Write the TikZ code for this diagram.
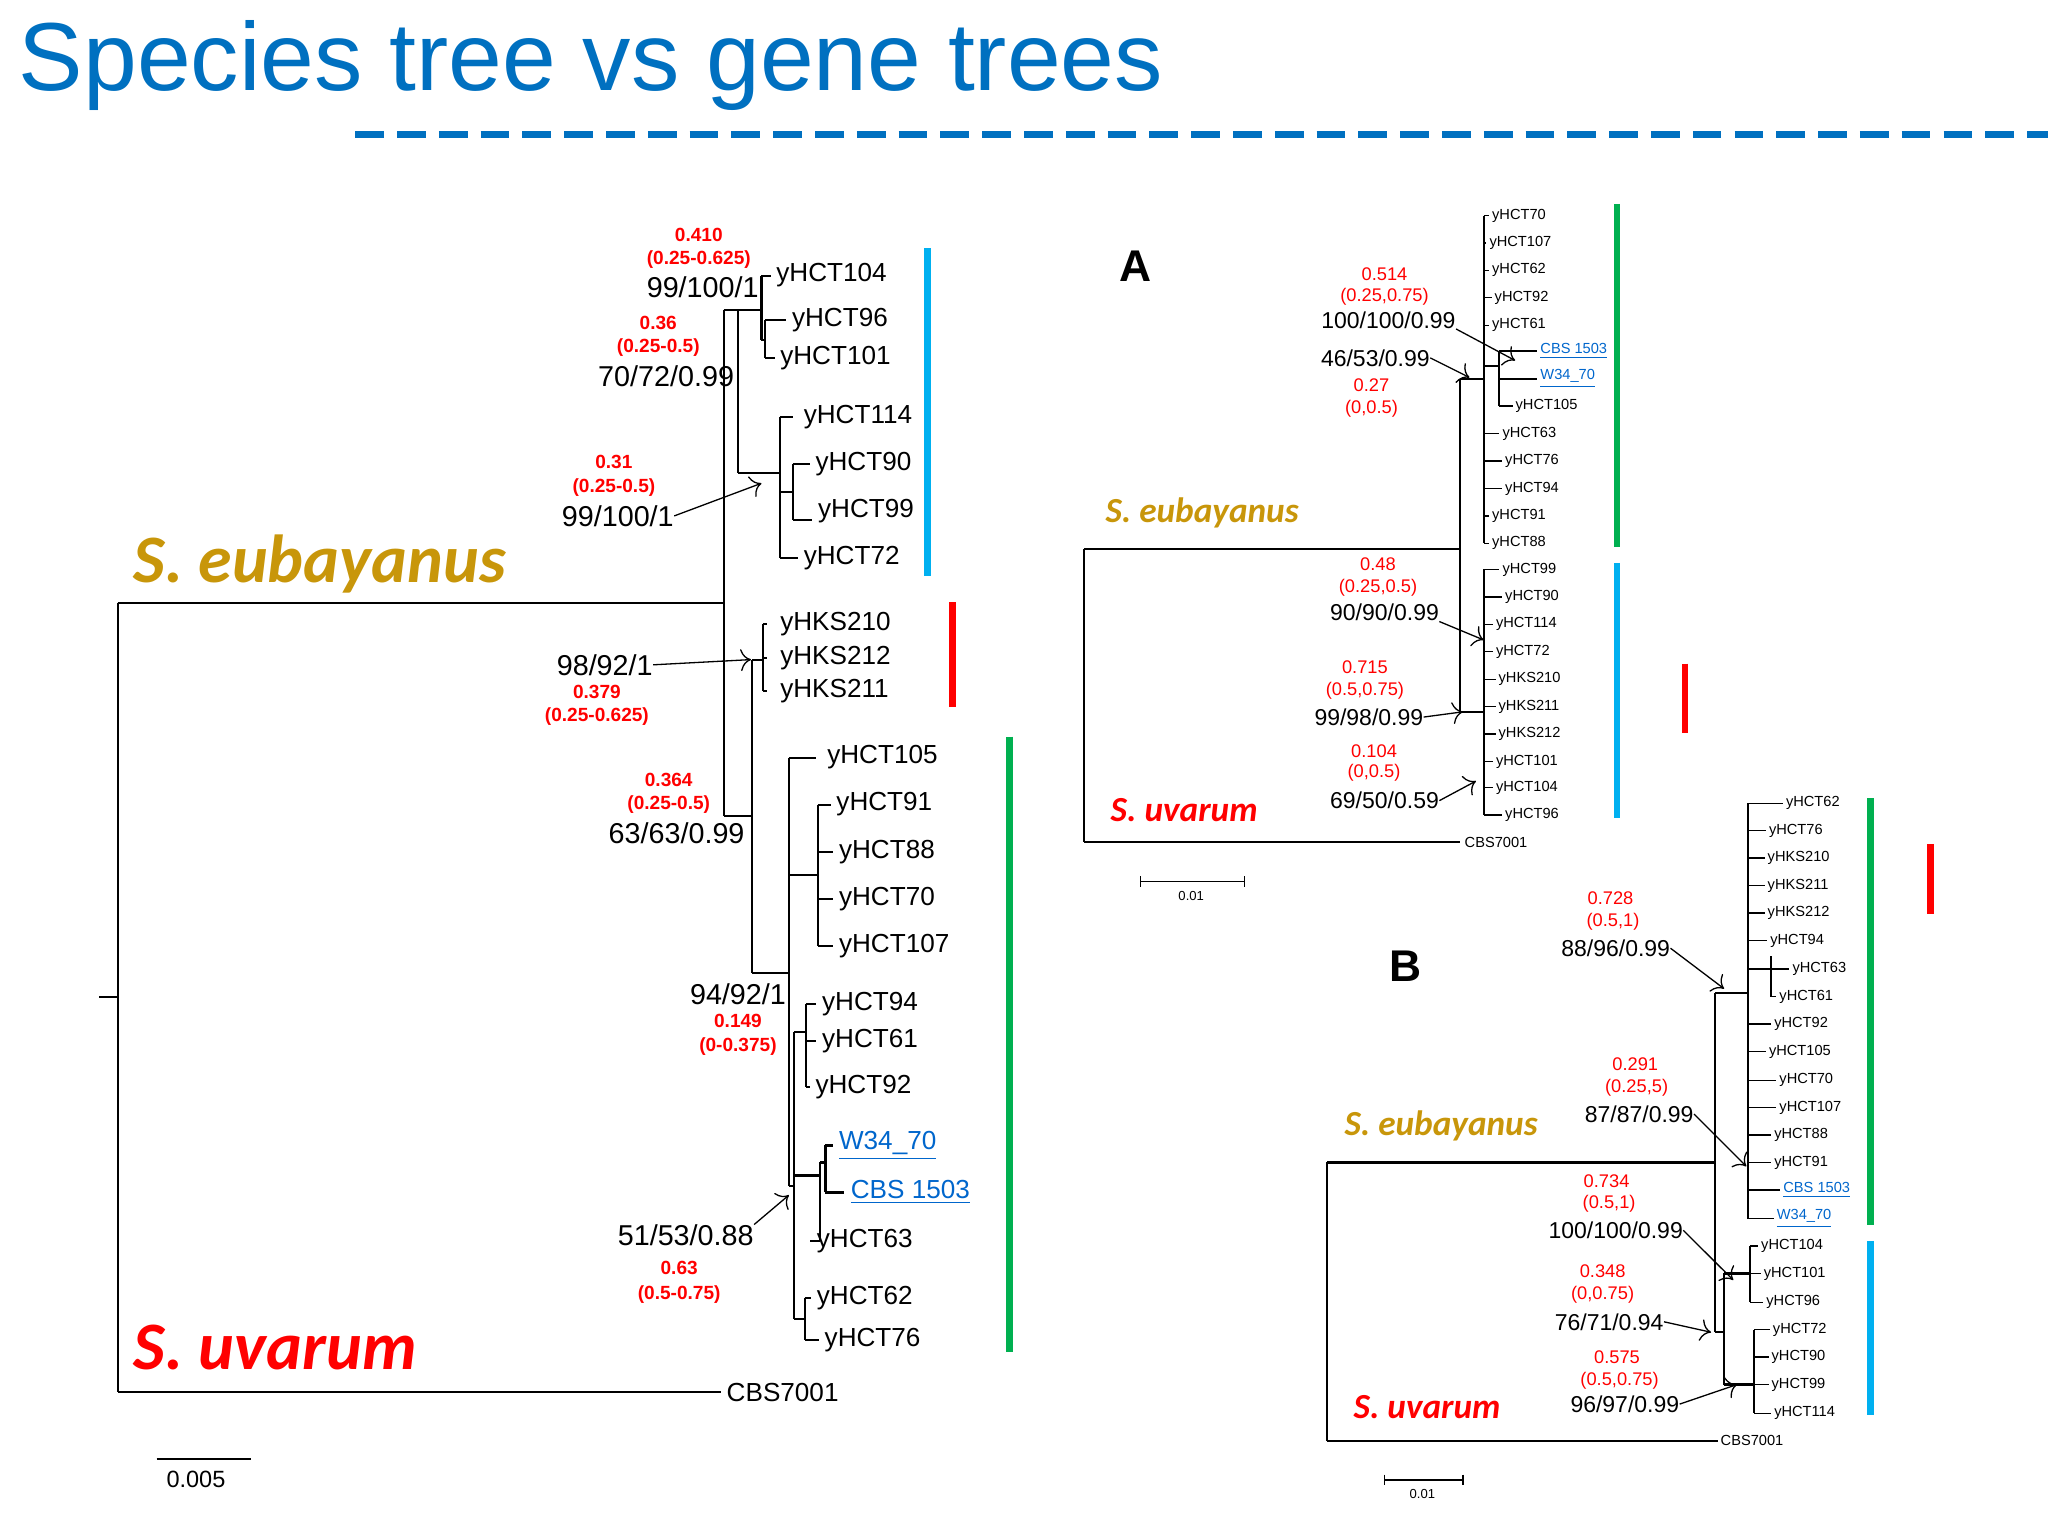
\documentclass[tikz,border=0pt]{standalone}
\usepackage{fontspec}
\setmainfont{Liberation Sans}
\newfontfamily\carlitofont{Carlito}
\usetikzlibrary{arrows.meta}
\definecolor{tblue}{RGB}{0,112,192}
\definecolor{gold}{RGB}{200,150,10}
\definecolor{lnk}{RGB}{0,102,204}
\definecolor{bbar}{RGB}{0,176,240}
\definecolor{gbar}{RGB}{0,176,80}
\tikzset{
 br/.style={line width=0.8pt},
 tipL/.style={anchor=west,inner sep=0,font=\fontsize{10}{12}\selectfont},
 tipS/.style={anchor=west,inner sep=0,font=\fontsize{5.6}{7}\selectfont},
 redL/.style={text=red,inner sep=0,font=\bfseries\fontsize{7.3}{9}\selectfont},
 blkL/.style={inner sep=0,font=\fontsize{11}{13}\selectfont},
 redS/.style={text=red,inner sep=0,font=\fontsize{7}{8}\selectfont},
 blkS/.style={inner sep=0,font=\fontsize{8.8}{10}\selectfont},
 arr/.style={-{To[length=4pt]},line width=0.5pt},
 bar/.style={line width=2.6pt},
 spec/.style={inner sep=0,anchor=west,font=\carlitofont\bfseries\itshape\fontsize{26}{30}\selectfont},
 specS/.style={inner sep=0,anchor=west,font=\carlitofont\bfseries\itshape\fontsize{13.5}{16}\selectfont},
}
\newcommand\ul[1]{\underline{#1}}
\begin{document}
\begin{tikzpicture}[x=0.5pt,y=-0.5pt]
\useasboundingbox (0,0) rectangle (1568,1176);
% title
\node[anchor=west,inner sep=0,text=tblue,font=\fontsize{37}{40}\selectfont] (title) at (14,50) {Species tree vs gene trees};
\draw[tblue,line width=2.4pt,dash pattern=on 11pt off 5pt] (272,103) -- (1568,103);

%%%%% LEFT TREE
\draw[br] (76,763) -- (90,763);
\draw[br] (90,462) -- (90,1066);
\draw[br] (90,462) -- (554,462);
\draw[br] (90,1066) -- (552,1066);
\node[tipL,anchor=west] (cbsL) at (556,1066) {CBS7001};
\draw[br] (554,237) -- (554,625);
\draw[br] (554,237) -- (565,237) (565,237) -- (565,362);
\draw[br] (565,237) -- (583,237) (583,211) -- (583,260) (583,211) -- (590,211)
  (583,260) -- (586,260) (586,245) -- (586,274) (586,245) -- (602,245) (586,274) -- (593,274);
\draw[br] (565,362) -- (597,362) (597,319) -- (597,427) (597,319) -- (607,319)
  (597,377) -- (607,377) (607,355) -- (607,398) (607,355) -- (620,355) (607,398) -- (622,398)
  (597,427) -- (611,427);
\draw[br] (554,625) -- (576,625) (576,505) -- (576,745) (576,505) -- (584,505)
  (584,478) -- (584,529) (584,478) -- (587,478) (584,504) -- (587,504) (584,529) -- (587,529);
\draw[br] (576,745) -- (604,745) (604,580) -- (604,908) (604,580) -- (625,580)
  (604,670) -- (626,670) (626,616) -- (626,724) (626,616) -- (636,616) (626,652) -- (638,652)
  (626,688) -- (638,688) (626,724) -- (638,724)
  (604,908) -- (608,908) (608,790) -- (608,1010)
  (608,790) -- (617,790) (617,769) -- (617,832) (617,769) -- (625,769) (617,797) -- (625,797) (617,832) -- (620,832)
  (608,900) -- (628,900) (628,890) -- (628,950) (628,890) -- (632,890) (632,877) -- (632,913)
  (632,877) -- (638,877) (632,913) -- (646,913) (628,950) -- (620,950)
  (608,1010) -- (616,1010) (616,994) -- (616,1026) (616,994) -- (621,994) (616,1026) -- (627,1026);
\foreach \n/\x/\y in {yHCT104/594/211,yHCT96/606/245,yHCT101/597/274,yHCT114/615/319,yHCT90/624/355,yHCT99/626/391,yHCT72/615/427,yHKS210/597/478,yHKS212/597/504,yHKS211/597/529,yHCT105/633/580,yHCT91/640/616,yHCT88/642/652,yHCT70/642/688,yHCT107/642/724,yHCT94/629/769,yHCT61/629/797,yHCT92/624/832,yHCT63/625/950,yHCT62/625/994,yHCT76/631/1026}
  \node[tipL] (L\n) at (\x,\y) {\n};
\node[tipL,text=lnk] (LW34) at (642,877) {\ul{W34\_70}};
\node[tipL,text=lnk] (LCBS) at (651,913) {\ul{CBS 1503}};
% annotations left
\node[redL] (a1) at (535,180) {0.410}; \node[redL] (a2) at (535,199) {(0.25-0.625)}; \node[blkL] (a3) at (538,220) {99/100/1};
\node[redL] (b1) at (504,247) {0.36}; \node[redL] (b2) at (504,266) {(0.25-0.5)}; \node[blkL] (b3) at (510,288) {70/72/0.99};
\node[redL] (c1) at (470,354) {0.31}; \node[redL] (c2) at (470,373) {(0.25-0.5)}; \node[blkL] (c3) at (473,395) {99/100/1};
\coordinate (c4) at (583,370); \draw[arr] (c3.east) -- (c4);
\node[blkL] (d3) at (463,509) {98/92/1}; \coordinate (d4) at (575,505); \draw[arr] (d3.east) -- (d4);
\node[redL] (d1) at (457,530) {0.379}; \node[redL] (d2) at (457,549) {(0.25-0.625)};
\node[redL] (e1) at (512,597) {0.364}; \node[redL] (e2) at (512,616) {(0.25-0.5)}; \node[blkL] (e3) at (518,638) {63/63/0.99};
\node[blkL] (f3) at (565,761) {94/92/1}; \node[redL] (f1) at (565,782) {0.149}; \node[redL] (f2) at (565,801) {(0-0.375)};
\node[blkL] (g3) at (525,946) {51/53/0.88}; \coordinate (g4) at (604,915); \draw[arr] (g3.north east) -- (g4);
\node[redL] (g1) at (520,971) {0.63}; \node[redL] (g2) at (520,991) {(0.5-0.75)};
\node[spec,text=gold] (eubL) at (102,432) {S. eubayanus};
\node[spec,text=red] (uvaL) at (102,1032) {S. uvarum};
\draw[bar,bbar] (710,190) -- (710,441);
\draw[bar,red] (729,461) -- (729,541);
\draw[bar,gbar] (773,564) -- (773,1035);
\draw[br] (120,1117) -- (192,1117);
\node[inner sep=0,font=\fontsize{9}{10}\selectfont] (sbL) at (150,1133) {0.005};

%%%%% TREE A
\node[inner sep=0,font=\bfseries\fontsize{17}{20}\selectfont] (Alab) at (869,204) {A};
\draw[br] (830,420) -- (830,645) (830,420) -- (1118,420) (830,645) -- (1118,645);
\draw[br] (1118,290) -- (1118,545) (1118,290) -- (1136,290) (1136,165) -- (1136,416)
  (1136,280) -- (1148,280) (1148,269) -- (1148,311) (1148,269) -- (1177,269) (1148,290) -- (1177,290) (1148,311) -- (1158,311)
  (1118,545) -- (1136,545) (1136,436) -- (1136,624);
\foreach \n/\x/\y in {yHCT70/1142/165,yHCT107/1140/186,yHCT62/1142/207,yHCT92/1144/228,yHCT61/1142/249,yHCT63/1150/332,yHCT76/1152/353,yHCT94/1152/374,yHCT91/1142/395,yHCT88/1142/416,yHCT99/1150/436,yHCT90/1152/457,yHCT114/1145/478,yHCT72/1145/499,yHKS210/1147/520,yHKS211/1147/541,yHKS212/1147/562,yHCT101/1145/583,yHCT104/1145/603,yHCT96/1152/624}
  {\node[tipS] (A\n) at (\x,\y) {\n}; \draw[line width=0.5pt] (1136,\y) -- (\x-2,\y);}
\node[tipS] (AyHCT105) at (1160,311) {yHCT105};
\node[tipS,text=lnk] (ACBS) at (1179,269) {\ul{CBS 1503}};
\node[tipS,text=lnk] (AW34) at (1179,290) {\ul{W34\_70}};
\node[tipS] (ACBS7) at (1121,645) {CBS7001};
\node[redS] (h1) at (1060,210) {0.514}; \node[redS] (h2) at (1060,227) {(0.25,0.75)}; \node[blkS] (h3) at (1063,245) {100/100/0.99};
\coordinate (h4) at (1160,276); \draw[arr] (h3.south east) -- (h4);
\node[blkS] (i3) at (1053,274) {46/53/0.99}; \coordinate (i4) at (1125,289); \draw[arr] (i3.east) -- (i4);
\node[redS] (i1) at (1050,295) {0.27}; \node[redS] (i2) at (1050,313) {(0,0.5)};
\node[redS] (j1) at (1055,432) {0.48}; \node[redS] (j2) at (1055,450) {(0.25,0.5)}; \node[blkS] (j3) at (1060,469) {90/90/0.99};
\coordinate (j4) at (1136,490); \draw[arr] (j3.south east) -- (j4);
\node[redS] (k1) at (1045,511) {0.715}; \node[redS] (k2) at (1045,529) {(0.5,0.75)}; \node[blkS] (k3) at (1048,549) {99/98/0.99};
\coordinate (k4) at (1120,545); \draw[arr] (k3.east) -- (k4);
\node[redS] (l1) at (1052,575) {0.104}; \node[redS] (l2) at (1052,592) {(0,0.5)}; \node[blkS] (l3) at (1060,613) {69/50/0.59};
\coordinate (l4) at (1130,598); \draw[arr] (l3.east) -- (l4);
\node[specS,text=gold] (eubA) at (846,393) {S. eubayanus};
\node[specS,text=red] (uvaA) at (850,620) {S. uvarum};
\draw[bar,gbar] (1238,156) -- (1238,419);
\draw[bar,bbar] (1238,431) -- (1238,626);
\draw[bar,red] (1290,508) -- (1290,561);
\draw[line width=0.5pt] (873,675) -- (953,675) (873,671) -- (873,679) (953,671) -- (953,679);
\node[inner sep=0,font=\fontsize{5}{6}\selectfont] (sbA) at (912,686) {0.01};

%%%%% TREE B
\node[inner sep=0,font=\bfseries\fontsize{17}{20}\selectfont] (Blab) at (1076,740) {B};
\draw[br] (1016,890) -- (1016,1103) (1016,890) -- (1313,890) (1016,1103) -- (1315,1103);
\draw[br] (1313,760) -- (1313,1020) (1313,760) -- (1338,760) (1338,615) -- (1338,933)
  (1338,742) -- (1356,742) (1356,732) -- (1356,763)
  (1313,1020) -- (1320,1020) (1320,975) -- (1320,1060)
  (1320,975) -- (1340,975) (1340,954) -- (1340,997)
  (1320,1060) -- (1343,1060) (1343,1018) -- (1343,1082);
\foreach \n/\x/\y/\b in {yHCT62/1367/615/1338,yHCT76/1354/636/1338,yHKS210/1353/657/1338,yHKS211/1353/678/1338,yHKS212/1353/699/1338,yHCT94/1355/720/1338,yHCT63/1372/742/1356,yHCT61/1362/763/1356,yHCT92/1358/784/1338,yHCT105/1354/805/1338,yHCT70/1362/827/1338,yHCT107/1362/848/1338,yHCT88/1358/869/1338,yHCT91/1358/890/1338,yHCT104/1348/954/1340,yHCT101/1350/975/1340,yHCT96/1352/997/1340,yHCT72/1357/1018/1343,yHCT90/1356/1039/1343,yHCT99/1356/1060/1343,yHCT114/1358/1082/1343}
  {\node[tipS] (B\n) at (\x,\y) {\n}; \draw[line width=0.5pt] (\b,\y) -- (\x-2,\y);}
\node[tipS,text=lnk] (BCBS) at (1365,911) {\ul{CBS 1503}}; \draw[line width=0.5pt] (1338,911) -- (1363,911);
\node[tipS,text=lnk] (BW34) at (1360,933) {\ul{W34\_70}}; \draw[line width=0.5pt] (1338,933) -- (1358,933);
\node[tipS] (BCBS7) at (1317,1103) {CBS7001};
\node[redS] (m1) at (1233,688) {0.728}; \node[redS] (m2) at (1235,706) {(0.5,1)}; \node[blkS] (m3) at (1237,726) {88/96/0.99};
\coordinate (m4) at (1320,757); \draw[arr] (m3.east) -- (m4);
\node[redS] (n1) at (1252,815) {0.291}; \node[redS] (n2) at (1253,833) {(0.25,5)}; \node[blkS] (n3) at (1255,853) {87/87/0.99};
\coordinate (n4) at (1337,893); \draw[arr] (n3.east) -- (n4);
\node[redS] (o1) at (1230,904) {0.734}; \node[redS] (o2) at (1232,922) {(0.5,1)}; \node[blkS] (o3) at (1237,942) {100/100/0.99};
\coordinate (o4) at (1327,980); \draw[arr] (o3.east) -- (o4);
\node[redS] (p1) at (1227,973) {0.348}; \node[redS] (p2) at (1227,991) {(0,0.75)}; \node[blkS] (p3) at (1232,1012) {76/71/0.94};
\coordinate (p4) at (1310,1020); \draw[arr] (p3.east) -- (p4);
\node[redS] (q1) at (1238,1039) {0.575}; \node[redS] (q2) at (1240,1057) {(0.5,0.75)}; \node[blkS] (q3) at (1244,1075) {96/97/0.99};
\coordinate (q4) at (1330,1060); \draw[arr] (q3.east) -- (q4);
\node[specS,text=gold] (eubB) at (1029,862) {S. eubayanus};
\node[specS,text=red] (uvaB) at (1036,1077) {S. uvarum};
\draw[bar,gbar] (1432,611) -- (1432,938);
\draw[bar,bbar] (1432,950) -- (1432,1083);
\draw[bar,red] (1478,646) -- (1478,700);
\draw[line width=0.5pt] (1060,1133) -- (1120,1133) (1060,1129) -- (1060,1137) (1120,1129) -- (1120,1137);
\node[inner sep=0,font=\fontsize{5}{6}\selectfont] (sbB) at (1089,1144) {0.01};
\end{tikzpicture}
\end{document}
